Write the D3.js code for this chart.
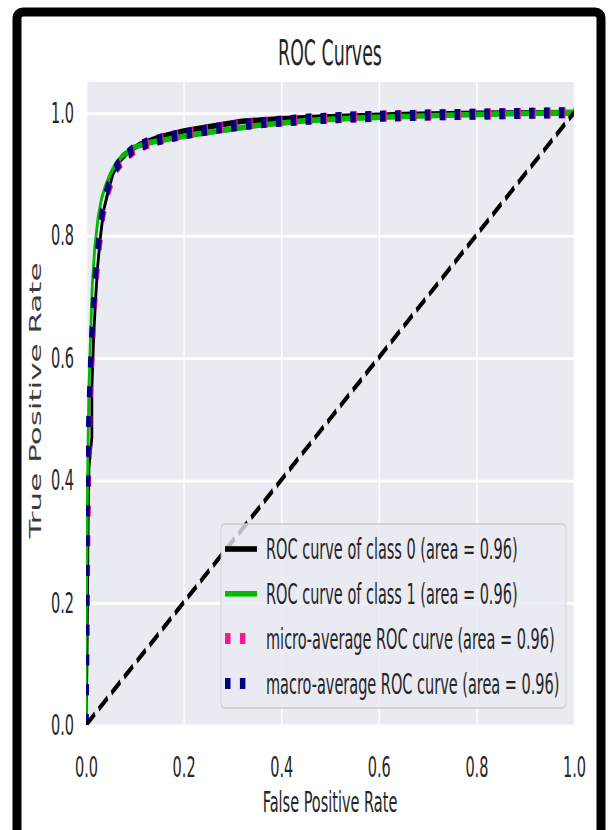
<!DOCTYPE html>
<html>
<head>
<meta charset="utf-8">
<script src="https://cdn.jsdelivr.net/npm/d3@7"></script>
<style>
  body { margin: 0; background: #fff; }
  svg { display: block; font-family: "DejaVu Sans", sans-serif; }
</style>
</head>
<body>
<div id="chart"></div>
<script>
// Tick values
const xTicks = [0, 0.2, 0.4, 0.6, 0.8, 1.0];
const yTicks = [0, 0.2, 0.4, 0.6, 0.8, 1.0];

// ROC points [fpr, tpr]
const class0 = [[0,0],[0.002,0.1],[0.004,0.3],[0.006,0.42],[0.012,0.47],[0.012,0.55],[0.016,0.64],[0.02,0.7],[0.024,0.75],[0.03,0.8],[0.036,0.84],[0.045,0.87],[0.055,0.9],[0.068,0.92],[0.085,0.935],[0.11,0.948],[0.15,0.96],[0.2,0.97],[0.26,0.978],[0.32,0.986],[0.4,0.99],[0.5,0.993],[0.65,0.997],[0.8,0.999],[1,1]];
const class1 = [[0,0],[0,0.12],[0.002,0.3],[0.004,0.45],[0.006,0.55],[0.01,0.65],[0.013,0.72],[0.018,0.78],[0.025,0.83],[0.032,0.86],[0.04,0.88],[0.05,0.9],[0.06,0.915],[0.075,0.93],[0.1,0.944],[0.13,0.951],[0.17,0.957],[0.22,0.964],[0.28,0.971],[0.35,0.979],[0.45,0.987],[0.55,0.991],[0.7,0.995],[0.85,0.998],[1,1]];
const microAvg = [[0,0],[0.001,0.1],[0.003,0.28],[0.005,0.42],[0.008,0.52],[0.012,0.6],[0.016,0.67],[0.021,0.73],[0.027,0.78],[0.034,0.83],[0.043,0.865],[0.053,0.89],[0.064,0.91],[0.078,0.925],[0.1,0.94],[0.13,0.951],[0.17,0.96],[0.22,0.968],[0.28,0.976],[0.35,0.983],[0.45,0.989],[0.55,0.993],[0.7,0.996],[0.85,0.998],[1,1]];
const macroAvg = [[0,0],[0.001,0.12],[0.002,0.3],[0.004,0.44],[0.007,0.53],[0.011,0.62],[0.015,0.68],[0.02,0.74],[0.026,0.79],[0.033,0.835],[0.042,0.87],[0.052,0.895],[0.063,0.912],[0.077,0.927],[0.1,0.942],[0.13,0.952],[0.17,0.96],[0.22,0.968],[0.28,0.976],[0.35,0.983],[0.45,0.989],[0.55,0.993],[0.7,0.996],[0.85,0.998],[1,1]];
const chance = [[0,0],[1,1]];

const legendLabels = [
  "ROC curve of class 0 (area = 0.96)",
  "ROC curve of class 1 (area = 0.96)",
  "micro-average ROC curve (area = 0.96)",
  "macro-average ROC curve (area = 0.96)"
];

// series styles
const series = [
  { data: class0, color: "#000000", width: 2.8, dash: null },
  { data: class1, color: "#00bb00", width: 2.8, dash: null },
  { data: microAvg, color: "deeppink", width: 5.5, dash: "5.5,9.4" },
  { data: macroAvg, color: "navy", width: 5.5, dash: "5.5,9.4" }
];

const width = 611, height = 830;
const stretch = 2; // picture is stretched vertically
const plot = { left: 86, right: 574, top: 82 / stretch, bottom: 725 / stretch };
const textColor = "#262626";

const svg = d3.select("#chart")
  .append("svg")
  .attr("width", width)
  .attr("height", height);

const g = svg.append("g").attr("transform", `scale(1,${stretch})`);

// Scales
const x = d3.scaleLinear().domain([0, 1]).range([plot.left, plot.right]);
const y = d3.scaleLinear().domain([0, 1.05]).range([plot.bottom, plot.top]);

// Background
g.append("rect")
  .attr("x", plot.left)
  .attr("y", plot.top)
  .attr("width", plot.right - plot.left)
  .attr("height", plot.bottom - plot.top)
  .attr("fill", "#eaeaf2");

g.append("clipPath").attr("id", "clip")
  .append("rect")
  .attr("x", plot.left)
  .attr("y", plot.top)
  .attr("width", plot.right - plot.left)
  .attr("height", plot.bottom - plot.top);

// Grid
g.append("g")
  .attr("transform", `translate(0,${plot.bottom})`)
  .call(d3.axisBottom(x).tickValues(xTicks).tickSize(-(plot.bottom - plot.top)).tickFormat(""))
  .call(a => a.select(".domain").remove())
  .selectAll("line").attr("stroke", "#fff").attr("stroke-width", 1.4);

g.append("g")
  .attr("transform", `translate(${plot.left},0)`)
  .call(d3.axisLeft(y).tickValues(yTicks).tickSize(-(plot.right - plot.left)).tickFormat(""))
  .call(a => a.select(".domain").remove())
  .selectAll("line").attr("stroke", "#fff").attr("stroke-width", 1.4);

// Tick labels
g.append("g")
  .attr("transform", `translate(0,${plot.bottom})`)
  .call(d3.axisBottom(x).tickValues(xTicks).tickFormat(d3.format(".1f")).tickSize(0).tickPadding(15.5))
  .call(a => a.select(".domain").remove())
  .selectAll("text")
  .attr("font-family", "DejaVu Sans")
  .attr("font-size", 14.5)
  .attr("fill", textColor);

g.append("g")
  .attr("transform", `translate(${plot.left},0)`)
  .call(d3.axisLeft(y).tickValues(yTicks).tickFormat(d3.format(".1f")).tickSize(0).tickPadding(12))
  .call(a => a.select(".domain").remove())
  .selectAll("text")
  .attr("font-family", "DejaVu Sans")
  .attr("font-size", 14.5)
  .attr("fill", textColor);

// Curves
const line = d3.line().x(d => x(d[0])).y(d => y(d[1]));
const curves = g.append("g").attr("clip-path", "url(#clip)");

series.forEach(s => {
  curves.append("path")
    .datum(s.data)
    .attr("fill", "none")
    .attr("stroke", s.color)
    .attr("stroke-width", s.width)
    .attr("stroke-dasharray", s.dash)
    .attr("stroke-linejoin", "round")
    .attr("d", line);
});

// chance line
curves.append("path")
  .datum(chance)
  .attr("fill", "none")
  .attr("stroke", "#000")
  .attr("stroke-width", 2.8)
  .attr("stroke-dasharray", "10.5,4.5")
  .attr("d", line);

// Title and axis labels
g.append("text")
  .attr("x", (plot.left + plot.right) / 2)
  .attr("y", 32.5)
  .attr("text-anchor", "middle")
  .attr("font-size", 17.4)
  .attr("fill", textColor)
  .text("ROC Curves");

g.append("text")
  .attr("x", (plot.left + plot.right) / 2)
  .attr("y", 406)
  .attr("text-anchor", "middle")
  .attr("font-size", 14.5)
  .attr("fill", textColor)
  .text("False Positive Rate");

g.append("text")
  .attr("transform", `translate(41,${(plot.top + plot.bottom) / 2 - 1.5}) rotate(-90)`)
  .attr("text-anchor", "middle")
  .attr("font-size", 15.5)
  .attr("fill", "#3a3a3a")
  .text("True Positive Rate");

// Legend
const legend = g.append("g");
const lgTop = 524 / stretch, lgBottom = 708 / stretch, lgLeft = 221, lgRight = 566;

legend.append("rect")
  .attr("x", lgLeft)
  .attr("y", lgTop)
  .attr("width", lgRight - lgLeft)
  .attr("height", lgBottom - lgTop)
  .attr("rx", 3)
  .attr("fill", "#eaeaf2")
  .attr("fill-opacity", 0.8)
  .attr("stroke", "#cccccc")
  .attr("stroke-width", 0.8);

const rowY = i => lgTop + 12.5 + i * 22.4;

series.forEach((s, i) => {
  legend.append("line")
    .attr("x1", 225)
    .attr("x2", s.dash ? 250 : 257)
    .attr("y1", rowY(i))
    .attr("y2", rowY(i))
    .attr("stroke", s.color)
    .attr("stroke-width", s.width)
    .attr("stroke-dasharray", s.dash);

  legend.append("text")
    .attr("x", 266)
    .attr("y", rowY(i) + 5.2)
    .attr("font-size", 14.5)
    .attr("fill", textColor)
    .text(legendLabels[i]);
});

// Outer frame
svg.append("rect")
  .attr("x", 17)
  .attr("y", 12)
  .attr("width", 584)
  .attr("height", 840)
  .attr("rx", 6)
  .attr("fill", "none")
  .attr("stroke", "#000")
  .attr("stroke-width", 9);
</script>
</body>
</html>
